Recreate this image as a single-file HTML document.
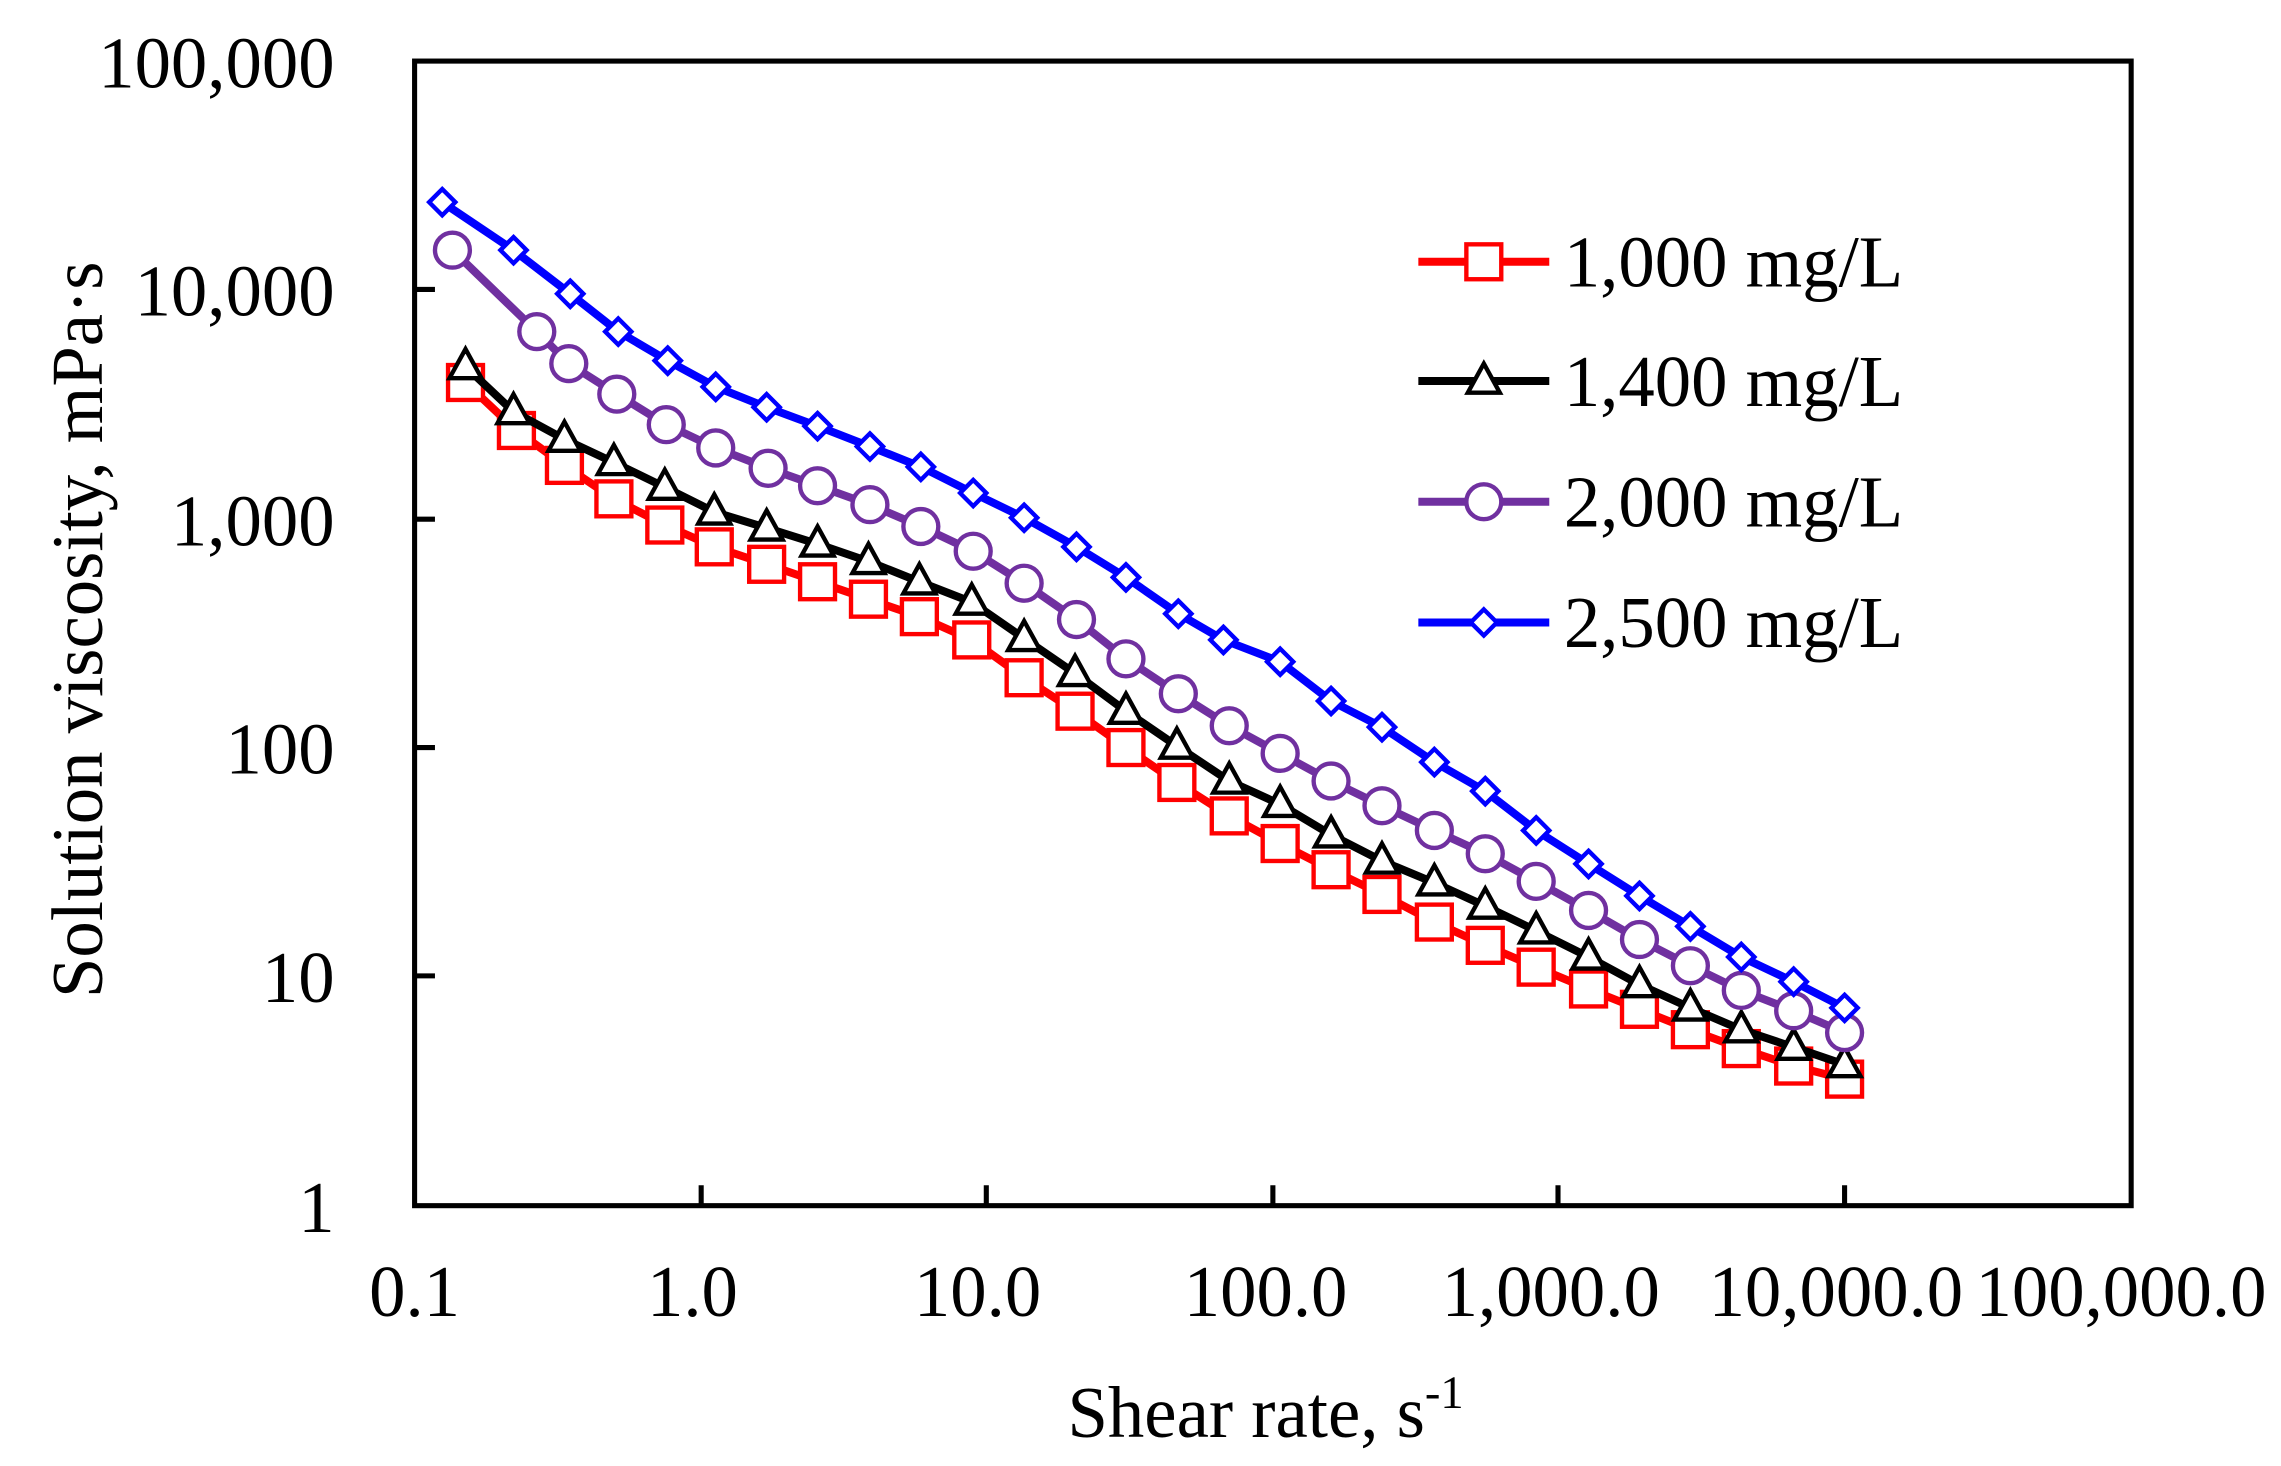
<!DOCTYPE html>
<html><head><meta charset="utf-8"><style>html,body{margin:0;padding:0;background:#fff}svg{display:block}</style></head>
<body>
<svg width="2281" height="1466" viewBox="0 0 1568 1008" preserveAspectRatio="none" xmlns="http://www.w3.org/2000/svg" font-family="'Liberation Serif', serif">
<rect x="0" y="0" width="1568" height="1008" fill="#fff"/>
<g stroke="#000" stroke-width="3.5" fill="none">
<rect x="285" y="42" width="1180" height="787"/>
<path d="M482,829v-14M678,829v-14M875,829v-14M1071,829v-14M1268,829v-14M285,199h14M285,357h14M285,514h14M285,671h14"/>
</g>
<g font-size="50" text-anchor="end" fill="#000">
<text x="230" y="60">100,000</text>
<text x="230" y="217">10,000</text>
<text x="230" y="375">1,000</text>
<text x="230" y="532">100</text>
<text x="230" y="689">10</text>
<text x="230" y="847">1</text>
</g>
<g font-size="50" text-anchor="middle" fill="#000">
<text x="285" y="905">0.1</text>
<text x="476" y="905">1.0</text>
<text x="672" y="905">10.0</text>
<text x="870" y="905">100.0</text>
<text x="1066" y="905">1,000.0</text>
<text x="1262" y="905">10,000.0</text>
<text x="1458" y="905">100,000.0</text>
<text x="870" y="988">Shear rate, s<tspan font-size="32" dy="-20">-1</tspan></text>
<text transform="translate(70,433) rotate(-90)">Solution viscosity, mPa·s</text>
</g>
<g stroke="#ff0000" stroke-width="5.5" fill="none" stroke-linejoin="round">
<polyline points="320,263 355,296 388,320 422,343 457,361 491,376 527,388 562,400 597,412 632,424 668,440 704,466 739,489 774,514 809,538 845,561 880,580 915,598 950,615 986,634 1021,650 1056,665 1092,680 1127,694 1162,708 1197,721 1233,733 1268,742"/>
</g>
<g stroke="#ff0000" stroke-width="3" fill="#fff">
<rect x="308" y="251" width="24" height="24"/><rect x="343" y="284" width="24" height="24"/><rect x="376" y="308" width="24" height="24"/><rect x="410" y="331" width="24" height="24"/><rect x="445" y="349" width="24" height="24"/><rect x="479" y="364" width="24" height="24"/><rect x="515" y="376" width="24" height="24"/><rect x="550" y="388" width="24" height="24"/><rect x="585" y="400" width="24" height="24"/><rect x="620" y="412" width="24" height="24"/><rect x="656" y="428" width="24" height="24"/><rect x="692" y="454" width="24" height="24"/><rect x="727" y="477" width="24" height="24"/><rect x="762" y="502" width="24" height="24"/><rect x="797" y="526" width="24" height="24"/><rect x="833" y="549" width="24" height="24"/><rect x="868" y="568" width="24" height="24"/><rect x="903" y="586" width="24" height="24"/><rect x="938" y="603" width="24" height="24"/><rect x="974" y="622" width="24" height="24"/><rect x="1009" y="638" width="24" height="24"/><rect x="1044" y="653" width="24" height="24"/><rect x="1080" y="668" width="24" height="24"/><rect x="1115" y="682" width="24" height="24"/><rect x="1150" y="696" width="24" height="24"/><rect x="1185" y="709" width="24" height="24"/><rect x="1221" y="721" width="24" height="24"/><rect x="1256" y="730" width="24" height="24"/>
</g>
<g stroke="#000" stroke-width="5.5" fill="none" stroke-linejoin="round">
<polyline points="320,252 353,283 388,302 422,318 457,335 491,352 527,363 562,374 597,386 632,400 668,414 704,439 739,463 774,489 809,513 845,537 880,553 915,574 950,592 986,607 1021,623 1056,640 1092,658 1127,677 1162,693 1197,708 1233,720 1268,732"/>
</g>
<g stroke="#000" stroke-width="3" fill="#fff">
<path d="M320,240l11,20h-22z M353,271l11,20h-22z M388,290l11,20h-22z M422,306l11,20h-22z M457,323l11,20h-22z M491,340l11,20h-22z M527,351l11,20h-22z M562,362l11,20h-22z M597,374l11,20h-22z M632,388l11,20h-22z M668,402l11,20h-22z M704,427l11,20h-22z M739,451l11,20h-22z M774,477l11,20h-22z M809,501l11,20h-22z M845,525l11,20h-22z M880,541l11,20h-22z M915,562l11,20h-22z M950,580l11,20h-22z M986,595l11,20h-22z M1021,611l11,20h-22z M1056,628l11,20h-22z M1092,646l11,20h-22z M1127,665l11,20h-22z M1162,681l11,20h-22z M1197,696l11,20h-22z M1233,708l11,20h-22z M1268,720l11,20h-22z"/>
</g>
<g stroke="#7030a0" stroke-width="5.5" fill="none" stroke-linejoin="round">
<polyline points="311,172 369,228 391,250 424,271 458,292 492,308 528,322 562,334 598,347 633,362 669,379 704,401 740,426 774,453 810,477 845,499 880,518 915,537 950,554 986,571 1021,587 1056,606 1092,626 1127,646 1162,664 1197,681 1233,695 1268,710"/>
</g>
<g stroke="#7030a0" stroke-width="3" fill="#fff">
<circle cx="311" cy="172" r="12"/><circle cx="369" cy="228" r="12"/><circle cx="391" cy="250" r="12"/><circle cx="424" cy="271" r="12"/><circle cx="458" cy="292" r="12"/><circle cx="492" cy="308" r="12"/><circle cx="528" cy="322" r="12"/><circle cx="562" cy="334" r="12"/><circle cx="598" cy="347" r="12"/><circle cx="633" cy="362" r="12"/><circle cx="669" cy="379" r="12"/><circle cx="704" cy="401" r="12"/><circle cx="740" cy="426" r="12"/><circle cx="774" cy="453" r="12"/><circle cx="810" cy="477" r="12"/><circle cx="845" cy="499" r="12"/><circle cx="880" cy="518" r="12"/><circle cx="915" cy="537" r="12"/><circle cx="950" cy="554" r="12"/><circle cx="986" cy="571" r="12"/><circle cx="1021" cy="587" r="12"/><circle cx="1056" cy="606" r="12"/><circle cx="1092" cy="626" r="12"/><circle cx="1127" cy="646" r="12"/><circle cx="1162" cy="664" r="12"/><circle cx="1197" cy="681" r="12"/><circle cx="1233" cy="695" r="12"/><circle cx="1268" cy="710" r="12"/>
</g>
<g stroke="#0000ff" stroke-width="5.5" fill="none" stroke-linejoin="round">
<polyline points="304,139 353,172 392,202 425,228 459,248 492,266 527,280 562,293 598,307 633,321 669,339 704,356 740,376 774,397 810,422 841,440 880,455 915,482 950,500 986,524 1021,544 1056,571 1092,594 1127,616 1162,637 1197,658 1233,675 1268,693"/>
</g>
<g stroke="#0000ff" stroke-width="3" fill="#fff">
<path d="M304,130l9,9l-9,9l-9,-9z M353,163l9,9l-9,9l-9,-9z M392,193l9,9l-9,9l-9,-9z M425,219l9,9l-9,9l-9,-9z M459,239l9,9l-9,9l-9,-9z M492,257l9,9l-9,9l-9,-9z M527,271l9,9l-9,9l-9,-9z M562,284l9,9l-9,9l-9,-9z M598,298l9,9l-9,9l-9,-9z M633,312l9,9l-9,9l-9,-9z M669,330l9,9l-9,9l-9,-9z M704,347l9,9l-9,9l-9,-9z M740,367l9,9l-9,9l-9,-9z M774,388l9,9l-9,9l-9,-9z M810,413l9,9l-9,9l-9,-9z M841,431l9,9l-9,9l-9,-9z M880,446l9,9l-9,9l-9,-9z M915,473l9,9l-9,9l-9,-9z M950,491l9,9l-9,9l-9,-9z M986,515l9,9l-9,9l-9,-9z M1021,535l9,9l-9,9l-9,-9z M1056,562l9,9l-9,9l-9,-9z M1092,585l9,9l-9,9l-9,-9z M1127,607l9,9l-9,9l-9,-9z M1162,628l9,9l-9,9l-9,-9z M1197,649l9,9l-9,9l-9,-9z M1233,666l9,9l-9,9l-9,-9z M1268,684l9,9l-9,9l-9,-9z"/>
</g>
<g stroke-width="5.5">
<line x1="975" y1="180" x2="1065" y2="180" stroke="#ff0000"/>
<rect x="1008" y="168" width="24" height="24" stroke="#ff0000" stroke-width="3" fill="#fff"/>
<line x1="975" y1="262" x2="1065" y2="262" stroke="#000"/>
<path d="M1020,250l11,20h-22z" stroke="#000" stroke-width="3" fill="#fff"/>
<line x1="975" y1="345" x2="1065" y2="345" stroke="#7030a0"/>
<circle cx="1020" cy="345" r="12" stroke="#7030a0" stroke-width="3" fill="#fff"/>
<line x1="975" y1="428" x2="1065" y2="428" stroke="#0000ff"/>
<path d="M1020,419l9,9l-9,9l-9,-9z" stroke="#0000ff" stroke-width="3" fill="#fff"/>
</g>
<g font-size="50" fill="#000">
<text x="1075" y="197">1,000 mg/L</text>
<text x="1075" y="279">1,400 mg/L</text>
<text x="1075" y="362">2,000 mg/L</text>
<text x="1075" y="445">2,500 mg/L</text>
</g>
</svg>
</body></html>
